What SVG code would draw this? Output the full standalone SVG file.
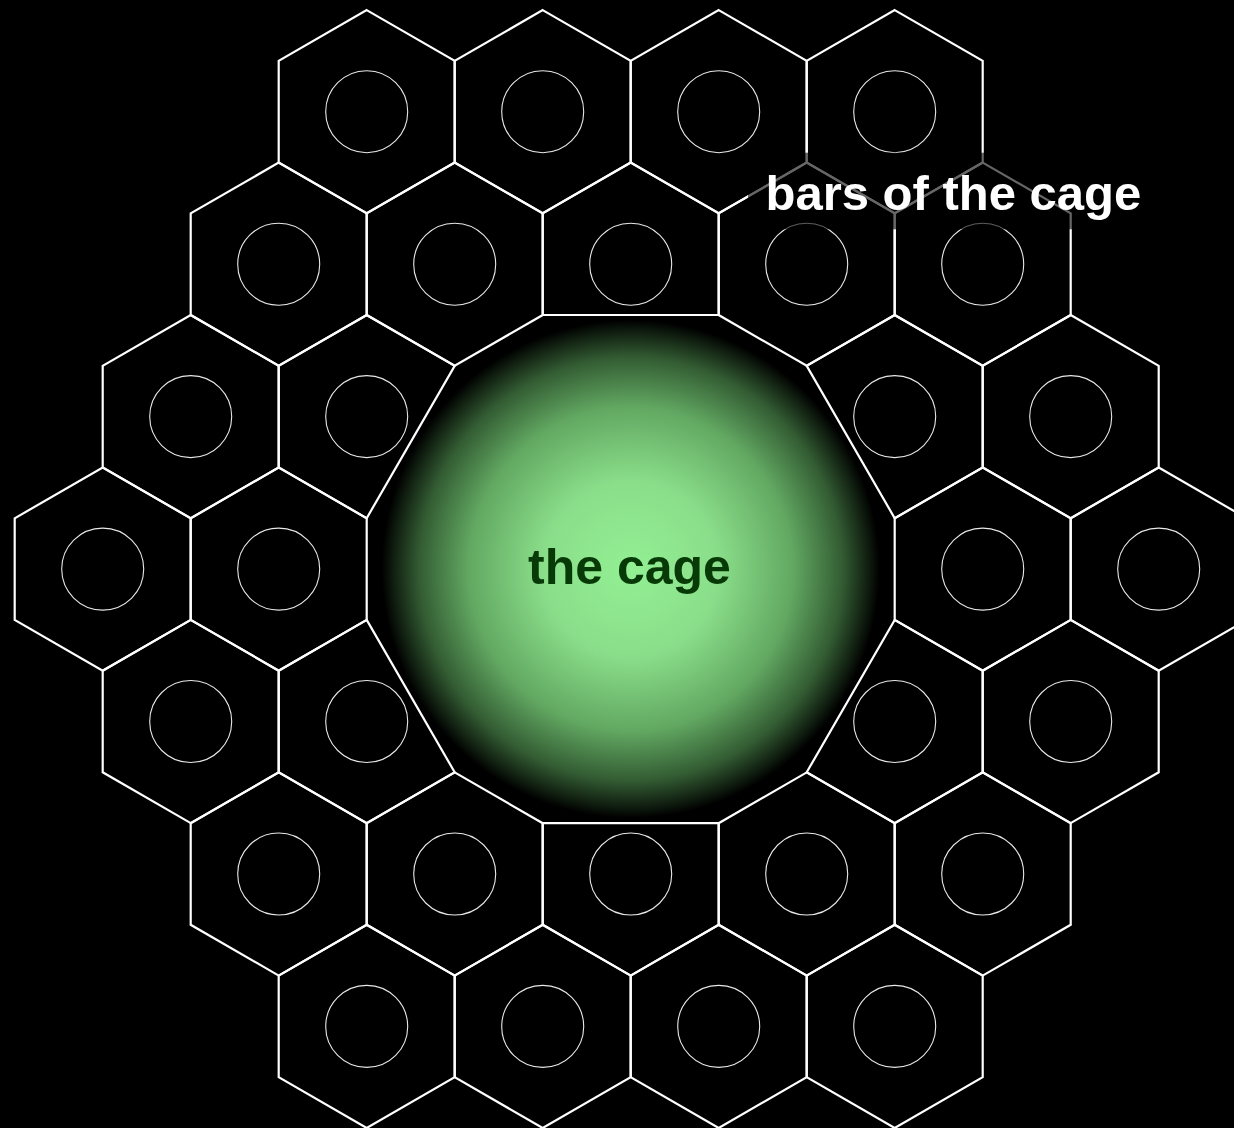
<svg xmlns="http://www.w3.org/2000/svg" xmlns:xlink="http://www.w3.org/1999/xlink" width="1234" height="1128" viewBox="0 0 1234 1128">
  <style>
    .cell { fill: none; stroke: #ffffff; stroke-width: 2.2; stroke-linejoin: miter; }
    .ring { fill: none; stroke: #e8e8e8; stroke-width: 1.1; }
    .lbl { font-family: "Liberation Sans", Arial, sans-serif; font-weight: bold; font-size: 50px; }
  </style>
  <defs>
    <radialGradient id="glow" cx="0.5" cy="0.5" r="0.5">
      <stop offset="0" stop-color="#93f093"/>
      <stop offset="0.35" stop-color="#8ade8a"/>
      <stop offset="0.65" stop-color="#62a862"/>
      <stop offset="0.85" stop-color="#335c33"/>
      <stop offset="0.96" stop-color="#0e1a0e"/>
      <stop offset="1" stop-color="#000000"/>
    </radialGradient>
    <g id="hexcell">
      <polygon class="cell" points="0,-101.6 88,-50.8 88,50.8 0,101.6 -88,50.8 -88,-50.8"/>
      <circle class="ring" cx="0" cy="0" r="41"/>
    </g>
  </defs>
  <rect x="0" y="0" width="1234" height="1128" fill="#000000"/>

  <g id="cage">
    <circle cx="630.7" cy="569.1" r="249" fill="url(#glow)"/>
    <text class="lbl" x="629.5" y="583.5" text-anchor="middle" fill="#083a08">the cage</text>
  </g>

  <g id="bars">
    <!-- row 1 -->
    <g id="h1-1"><use xlink:href="#hexcell" transform="translate(366.7,111.7)"/></g>
    <g id="h1-2"><use xlink:href="#hexcell" transform="translate(542.7,111.7)"/></g>
    <g id="h1-3"><use xlink:href="#hexcell" transform="translate(718.7,111.7)"/></g>
    <g id="h1-4"><use xlink:href="#hexcell" transform="translate(894.7,111.7)"/></g>
    <!-- row 2 -->
    <g id="h2-1"><use xlink:href="#hexcell" transform="translate(278.7,264.2)"/></g>
    <g id="h2-2"><use xlink:href="#hexcell" transform="translate(454.7,264.2)"/></g>
    <g id="h2-3">
      <polygon class="cell" points="630.7,162.6 718.7,213.4 718.7,315 542.7,315 542.7,213.4"/>
      <circle class="ring" cx="630.7" cy="264.2" r="41"/>
    </g>
    <g id="h2-4"><use xlink:href="#hexcell" transform="translate(806.7,264.2)"/></g>
    <g id="h2-5"><use xlink:href="#hexcell" transform="translate(982.7,264.2)"/></g>
    <!-- row 3 -->
    <g id="h3-1"><use xlink:href="#hexcell" transform="translate(190.7,416.6)"/></g>
    <g id="h3-2">
      <polygon class="cell" points="366.7,315 454.7,365.8 366.7,518.2 278.7,467.4 278.7,365.8"/>
      <circle class="ring" cx="366.7" cy="416.6" r="41"/>
    </g>
    <g id="h3-3">
      <polygon class="cell" points="894.7,315 982.7,365.8 982.7,467.4 894.7,518.2 806.7,365.8"/>
      <circle class="ring" cx="894.7" cy="416.6" r="41"/>
    </g>
    <g id="h3-4"><use xlink:href="#hexcell" transform="translate(1070.7,416.6)"/></g>
    <!-- row 4 -->
    <g id="h4-1"><use xlink:href="#hexcell" transform="translate(102.7,569.1)"/></g>
    <g id="h4-2"><use xlink:href="#hexcell" transform="translate(278.7,569.1)"/></g>
    <g id="h4-3"><use xlink:href="#hexcell" transform="translate(982.7,569.1)"/></g>
    <g id="h4-4"><use xlink:href="#hexcell" transform="translate(1158.7,569.1)"/></g>
    <!-- row 5 -->
    <g id="h5-1"><use xlink:href="#hexcell" transform="translate(190.7,721.5)"/></g>
    <g id="h5-2">
      <polygon class="cell" points="366.7,619.9 454.7,772.3 366.7,823.1 278.7,772.3 278.7,670.7"/>
      <circle class="ring" cx="366.7" cy="721.5" r="41"/>
    </g>
    <g id="h5-3">
      <polygon class="cell" points="894.7,619.9 982.7,670.7 982.7,772.3 894.7,823.1 806.7,772.3"/>
      <circle class="ring" cx="894.7" cy="721.5" r="41"/>
    </g>
    <g id="h5-4"><use xlink:href="#hexcell" transform="translate(1070.7,721.5)"/></g>
    <!-- row 6 -->
    <g id="h6-1"><use xlink:href="#hexcell" transform="translate(278.7,874)"/></g>
    <g id="h6-2"><use xlink:href="#hexcell" transform="translate(454.7,874)"/></g>
    <g id="h6-3">
      <polygon class="cell" points="542.7,823.2 718.7,823.2 718.7,924.8 630.7,975.6 542.7,924.8"/>
      <circle class="ring" cx="630.7" cy="874" r="41"/>
    </g>
    <g id="h6-4"><use xlink:href="#hexcell" transform="translate(806.7,874)"/></g>
    <g id="h6-5"><use xlink:href="#hexcell" transform="translate(982.7,874)"/></g>
    <!-- row 7 -->
    <g id="h7-1"><use xlink:href="#hexcell" transform="translate(366.7,1026.4)"/></g>
    <g id="h7-2"><use xlink:href="#hexcell" transform="translate(542.7,1026.4)"/></g>
    <g id="h7-3"><use xlink:href="#hexcell" transform="translate(718.7,1026.4)"/></g>
    <g id="h7-4"><use xlink:href="#hexcell" transform="translate(894.7,1026.4)"/></g>
  </g>

  <g id="connectors"></g>

  <g id="label-bars">
    <rect x="748" y="152.7" width="412" height="76.6" fill="#000000" fill-opacity="0.6"/>
    <text class="lbl" x="765.5" y="210" fill="#ffffff" style="font-size:49px">bars of the cage</text>
  </g>
</svg>
